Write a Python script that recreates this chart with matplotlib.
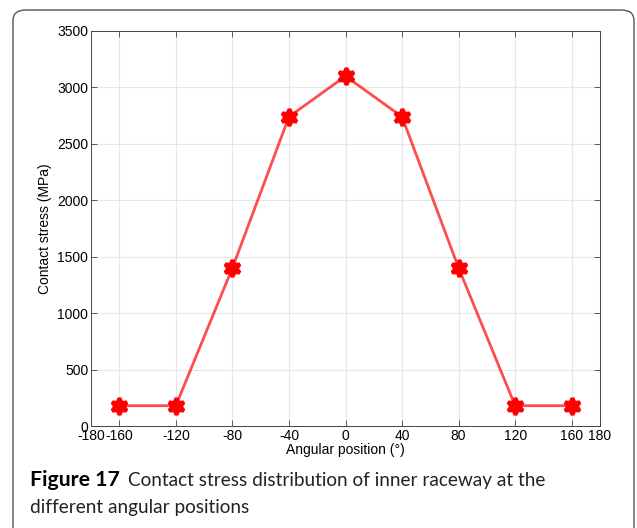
import matplotlib
matplotlib.use("Agg")
import matplotlib.pyplot as plt
from matplotlib.patches import FancyBboxPatch

plt.rcParams["axes.unicode_minus"] = False
plt.rcParams["font.family"] = ["Liberation Sans", "DejaVu Sans"]

# ── data ─────────────────────────────────────────────────────────────────────
angle = [-160, -120, -80, -40, 0, 40, 80, 120, 160]
stress = [180, 180, 1400, 2740, 3100, 2740, 1400, 180, 180]
xticks = [-180, -160, -120, -80, -40, 0, 40, 80, 120, 160, 180]
yticks = [0, 500, 1000, 1500, 2000, 2500, 3000, 3500]

W, H = 637, 528
fig = plt.figure(figsize=(W / 100, H / 100), dpi=100)

# rounded frame around figure + caption
frame = FancyBboxPatch((13 / W, -20 / H), 621 / W, (H - 10 + 20) / H,
                       boxstyle="round,pad=0,rounding_size=0.02",
                       transform=fig.transFigure, facecolor="none",
                       edgecolor="#555555", linewidth=1.0, zorder=-5)
fig.patches.append(frame)

ax = fig.add_axes([91 / W, 1 - 426 / H, 509 / W, 395 / H])
ax.plot(angle, stress, color="red", linewidth=2.0, alpha=0.7,
        solid_capstyle="butt", zorder=3)
ax.plot(angle, stress, linestyle="none", marker=(6, 1, 0), markersize=12,
        color="red", markeredgecolor="red", markeredgewidth=2.8,
        markerfacecolor="red", zorder=4)

ax.set_xlim(-180, 180)
ax.set_ylim(0, 3500)
ax.set_xticks(xticks)
ax.set_yticks(yticks)
ax.tick_params(direction="in", top=True, right=True, labelsize=10,
               length=4, width=0.6, color="#444444", pad=2)
for s in ax.spines.values():
    s.set_linewidth(0.7)
    s.set_color("#444444")
ax.grid(True, color="#e6e6e6", linewidth=0.8)
ax.set_axisbelow(True)
ax.set_xlabel("Angular position (°)", fontsize=10, labelpad=0)
ax.set_ylabel("Contact stress (MPa)", fontsize=10, labelpad=4)

# caption
fig.text(30 / W, 1 - 486 / H, "Figure 17", fontsize=15.3, fontweight="bold",
         family="Lato", va="baseline")
cap = dict(fontsize=13.7, family="Lato", va="baseline", color="#222222")
fig.text(128 / W, 1 - 486 / H,
         "Contact stress distribution of inner raceway at the", **cap)
fig.text(30 / W, 1 - 513 / H, "different angular positions", **cap)

fig.savefig("out.png", dpi=100)
